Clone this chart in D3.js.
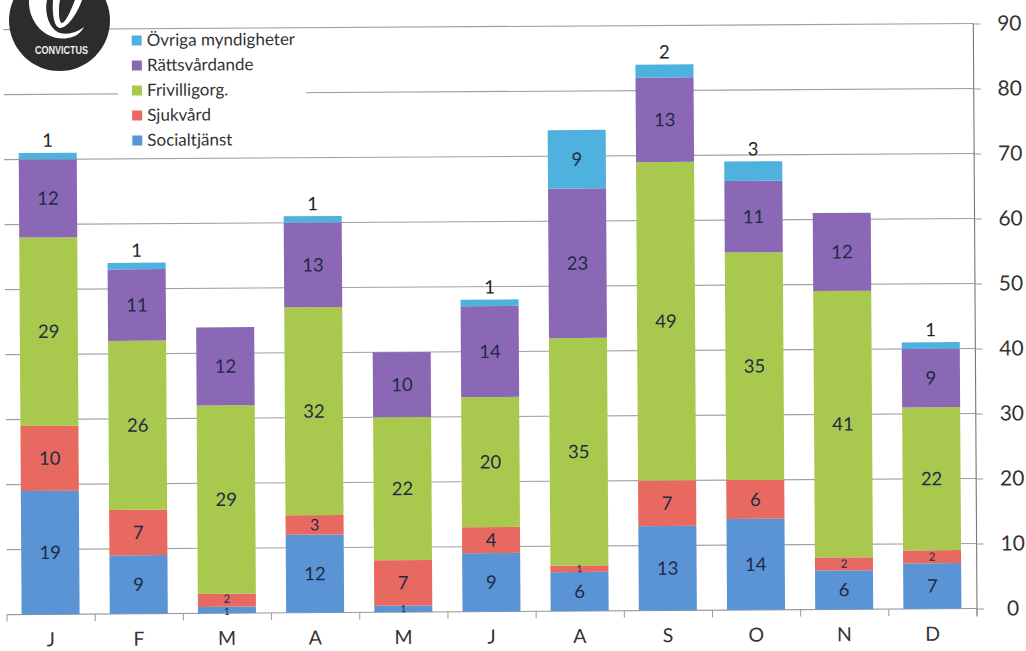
<!DOCTYPE html>
<html><head><meta charset="utf-8">
<style>html,body{margin:0;padding:0;background:#fff}svg{display:block}text{font-family:Lato,"Open Sans",sans-serif}</style>
<script src="https://cdn.jsdelivr.net/npm/d3@7/dist/d3.min.js"></script></head>
<body><svg id="c" width="1026" height="651"></svg>
<script>
const months = ["J","F","M","A","M","J","A","S","O","N","D"];
const socialtjanst = [19,9,1,12,1,9,6,13,14,6,7];
const sjukvard = [10,7,2,3,7,4,1,7,6,2,2];
const frivilligorg = [29,26,29,32,22,20,35,49,35,41,22];
const rattsvardande = [12,11,12,13,10,14,23,13,11,12,9];
const ovriga = [1,1,0,1,0,1,9,2,3,0,1];
const seriesNames = ["Socialtjänst","Sjukvård","Frivilligorg.","Rättsvårdande","Övriga myndigheter"];
const seriesValues = [socialtjanst,sjukvard,frivilligorg,rattsvardande,ovriga];
const colors = ["#5b94d5","#e8695f","#a9c94e","#8a68b5","#4fb1dd"];
const yTicks = [0,10,20,30,40,50,60,70,80,90];

const svg = d3.select("#c");
const tilt = -0.36;
const g = svg.append("g").attr("transform",`rotate(${tilt} 977 609)`);

const x = d3.scaleBand().domain(d3.range(months.length)).range([6.5,976.5]).paddingInner(0.342).paddingOuter(0.171);
const y = d3.scaleLinear().domain([0,90]).range([608.5,23.5]);
const stackData = months.map((m,i)=>{const o={i};seriesNames.forEach((s,k)=>o[s]=seriesValues[k][i]);return o;});
const layers = d3.stack().keys(seriesNames)(stackData);

// gridlines
g.append("g").selectAll("line").data(yTicks.filter(d=>d>0)).join("line")
  .attr("x1",7).attr("x2",977).attr("y1",d=>y(d)).attr("y2",d=>y(d))
  .attr("stroke","#a0a0a0").attr("stroke-width",1.1);

// right axis
const yAxis = d3.axisRight(y).tickValues(yTicks).tickSize(7).tickPadding(15);
const ya = g.append("g").attr("transform","translate(977,0)").call(yAxis);
ya.select(".domain").attr("stroke","#777").attr("stroke-width",1.1).attr("d",`M0,${y(90)}V${y(0)+8}`);
ya.selectAll(".tick line").attr("stroke","#999").attr("x1",-1);
ya.selectAll("text").attr("font-size",21).attr("fill","#333").style("font-family","Lato").attr("text-anchor","middle").attr("x",36);

// bottom axis
const xT = d3.scaleLinear().domain([0,months.length]).range([7,977]);
const xa = d3.axisBottom(x).tickFormat(i=>months[i]).tickSize(0).tickPadding(18);
const xg = g.append("g").attr("transform",`translate(0,${y(0)})`).call(xa);
xg.select(".domain").attr("stroke","#999").attr("stroke-width",1.1).attr("d","M7,0H977");
xg.selectAll("text").attr("font-size",19.5).attr("fill","#333").style("font-family","Lato");
xg.selectAll(".edge").data(d3.range(months.length+1)).join("line").attr("class","edge")
  .attr("x1",d=>xT(d)).attr("x2",d=>xT(d)).attr("y1",0).attr("y2",7).attr("stroke","#999");

// bars
g.append("g").selectAll("g").data(layers).join("g").attr("fill",(d,i)=>colors[i])
  .selectAll("rect").data(d=>d).join("rect")
  .attr("x",d=>x(d.data.i)).attr("width",x.bandwidth())
  .attr("y",d=>y(d[1])).attr("height",d=>y(d[0])-y(d[1]));

// labels
const lab = g.append("g").attr("text-anchor","middle");
layers.forEach((L,k)=>{
  L.forEach(d=>{
    const v=d[1]-d[0]; if(!v) return;
    const cx=x(d.data.i)+x.bandwidth()/2;
    const top = k===4 && v<=3;
    const size = top?18.5:(v<=1?10:(v===2?11.5:(v===3?16:18.5)));
    const nudge = d.data.i===2 && k<2 ? (k===0?1.5:-1.5) : 0;
    lab.append("text").attr("x",cx)
      .attr("y", top? y(d[1])-6 : y((d[0]+d[1])/2)+size*0.35+nudge)
      .attr("font-size",size).attr("fill",top?"#222":"#1e2b45").text(v);
  });
});

// legend
const leg = svg.append("g").attr("transform",`rotate(${tilt} 215 90)`);
leg.append("rect").attr("x",118).attr("y",32).attr("width",188).attr("height",118).attr("fill","#fff");
const rowY = d3.scalePoint().domain([4,3,2,1,0]).range([40,140]);
[4,3,2,1,0].forEach(k=>{
  leg.append("rect").attr("x",132).attr("y",rowY(k)-5).attr("width",10).attr("height",10).attr("fill",colors[k]);
  leg.append("text").attr("x",147).attr("y",rowY(k)+5.5).attr("font-size",17).attr("fill","#333").text(seriesNames[k]);
});

// logo
const logo = svg.append("g");
logo.append("circle").attr("cx",59.5).attr("cy",20.5).attr("r",50.5).attr("fill","#2c2c2c");
logo.append("path").attr("fill","#fff")
  .attr("d","M29,0C28,24 48,42 68,38C75,37 80,34 84,27C76,33 68,35 60,33C50,30 44,14 47,0Z");
logo.append("path").attr("fill","#fff")
  .attr("d","M53,0C52,14 54,27 60,28C68,28 78,12 82,0L75,0C71,10 66,22 62,23C59,23 58,10 60,0Z");
logo.append("text").attr("x",61.5).attr("y",54).attr("text-anchor","middle")
  .attr("font-size",11).attr("font-weight",700).attr("fill","#eee")
  .attr("textLength",53).attr("lengthAdjust","spacingAndGlyphs")
  .style("font-family","'Liberation Sans'").text("CONVICTUS");
</script></body></html>
